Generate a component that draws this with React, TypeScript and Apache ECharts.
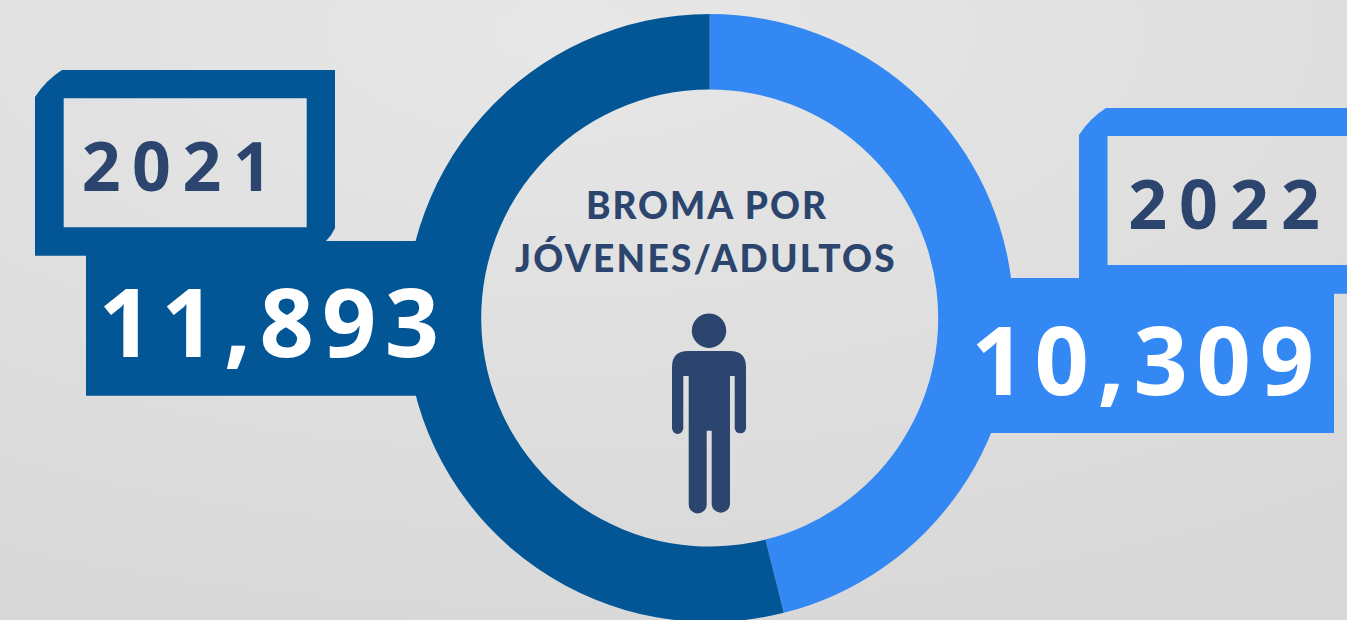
import React, { useEffect, useRef } from "react";
import * as echarts from "echarts";

const years = ["2022", "2021"];
const valueLabels = ["10,309", "11,893"];
// Ring shares as measured on the picture (percent of the circle)
const ringShares = [46.08, 53.92];
const ringColors = ["#3388F3", "#035696"];
const titleLines = ["BROMA POR", "JÓVENES/ADULTOS"];

const INK = "#2C456E";

const frameLeft =
  "M35 97 Q46 80 62 70 L335 70 L335 228 Q332 235 326 241 L335 241 L86 241 L86 255.7 L35 255.7 Z " +
  "M63.7 98.3 L63.7 227.3 L306.7 227.3 L306.7 98.3 Z";
const frameRight =
  "M1079 135 Q1090 118 1106 108 L1347 108 L1347 293.7 L1079 293.7 Z " +
  "M1107.5 136 L1107.5 265 L1347 265 L1347 136 Z";
const body =
  "M688 351 L730 351 Q746 351 746 367 L746 428.3 A5.7 5.7 0 0 1 734.7 428.3 L734.7 376 L730 376 " +
  "L730 504.4 A9.2 9.2 0 0 1 711.7 504.4 L711.7 430.7 L706.7 430.7 L706.7 504.4 A9 9 0 0 1 688.7 504.4 " +
  "L688.7 376 L683.3 376 L683.3 428.3 A5.65 5.65 0 0 1 672 428.3 L672 367 Q672 351 688 351 Z";

echarts.graphic.registerShape("frameLeft", echarts.graphic.extendPath(frameLeft, {}));
echarts.graphic.registerShape("frameRight", echarts.graphic.extendPath(frameRight, {}));
echarts.graphic.registerShape("personBody", echarts.graphic.extendPath(body, {}));

const spacing: Record<string, string> = {
  "2021": "11.5px",
  "2022": "12px",
  "11,893": "8.4px",
  "10,309": "8.8px",
  "BROMA POR": "2px",
  "JÓVENES/ADULTOS": "2.3px",
};

export default function App() {
  const ref = useRef<HTMLDivElement>(null);
  useEffect(() => {
    if (!ref.current) return;
    document.body.style.margin = "0";
    const chart = echarts.init(ref.current, undefined, { renderer: "svg" });
    const label = (text: string, x: number, y: number, font: string, fill: string) => ({
      type: "text",
      x,
      y,
      z: 20,
      style: {
        text,
        x: 0,
        y: 0,
        fill,
        font,
        textAlign: "center",
        textVerticalAlign: "middle",
      },
    });
    const bigFont = 'bold 95px "Open Sans"';
    const yearFont = 'bold 68px "Open Sans"';
    const titleFont = '900 37px "Lato"';
    chart.setOption({
      animation: false,
      backgroundColor: {
        type: "radial",
        x: 0.42,
        y: 0.05,
        r: 1,
        colorStops: [
          { offset: 0, color: "#E7E7E7" },
          { offset: 1, color: "#D8D8D8" },
        ],
      },
      tooltip: { show: false },
      legend: { show: false },
      series: [
        {
          type: "pie",
          silent: true,
          center: [709.7, 318],
          radius: [228.5, 304],
          startAngle: 90,
          clockwise: true,
          label: { show: false },
          labelLine: { show: false },
          itemStyle: { borderWidth: 0 },
          data: years.map((name, i) => ({
            name,
            value: ringShares[i],
            itemStyle: { color: ringColors[i] },
          })),
        },
      ],
      graphic: [
        { type: "rect", z: 10, shape: { x: 86, y: 241, width: 340, height: 154.7 }, style: { fill: ringColors[1] } },
        { type: "frameLeft", z: 11, style: { fill: ringColors[1] } },
        { type: "rect", z: 10, shape: { x: 985, y: 278, width: 349, height: 155 }, style: { fill: ringColors[0] } },
        { type: "frameRight", z: 11, style: { fill: ringColors[0] } },
        { type: "circle", z: 12, shape: { cx: 709, cy: 330.7, r: 17.2 }, style: { fill: INK } },
        { type: "personBody", z: 12, style: { fill: INK } },
        label(years[1], 182.5, 164, yearFont, INK),
        label(years[0], 1230, 202, yearFont, INK),
        label(valueLabels[1], 273, 320, bigFont, "#FFFFFF"),
        label(valueLabels[0], 1147, 358, bigFont, "#FFFFFF"),
        label(titleLines[0], 707, 204, titleFont, INK),
        label(titleLines[1], 706, 257, titleFont, INK),
      ],
    });
    ref.current.querySelectorAll("text").forEach((t) => {
      const s = spacing[(t.textContent || "").trim()];
      if (s) (t as SVGTextElement).style.letterSpacing = s;
    });
    return () => chart.dispose();
  }, []);
  return <div ref={ref} style={{ width: 1347, height: 620, overflow: "hidden" }} />;
}
